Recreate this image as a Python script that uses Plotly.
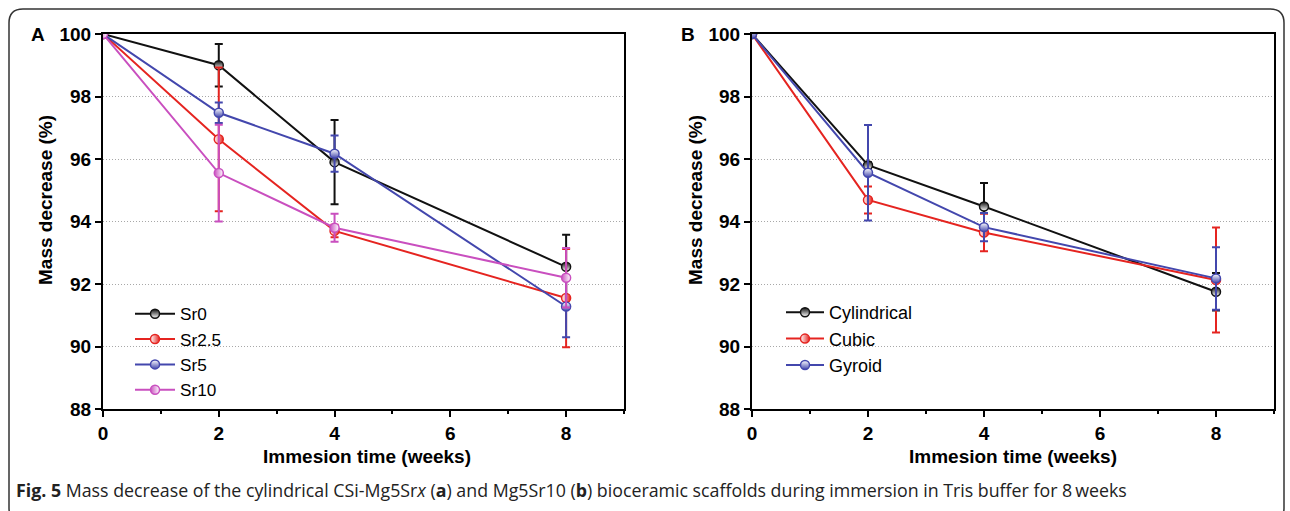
import plotly.graph_objects as go

W, H = 1290, 511

# ---------------- data ----------------
weeks = [0, 2, 4, 8]

# Panel A
sr_names = ["Sr0", "Sr2.5", "Sr5", "Sr10"]
sr0 = [100, 99.0, 95.9, 92.55]
sr0_err = [0, 0.68, 1.35, 1.03]
sr25 = [100, 96.63, 93.7, 91.55]
sr25_err = [0, 2.3, 0.2, 1.57]
sr5 = [100, 97.48, 96.17, 91.28]
sr5_err = [0, 0.33, 0.58, 0.98]
sr10 = [100, 95.55, 93.8, 92.2]
sr10_err = [0, 1.55, 0.45, 0.95]

# Panel B
shape_names = ["Cylindrical", "Cubic", "Gyroid"]
cyl = [100, 95.8, 94.48, 91.75]
cyl_err = [0, 0.1, 0.75, 0.6]
cub = [100, 94.69, 93.65, 92.13]
cub_err = [0, 0.43, 0.6, 1.68]
gyr = [100, 95.56, 93.82, 92.18]
gyr_err = [0, 1.53, 0.45, 1.0]

x_ticks = [0, 2, 4, 6, 8]
y_ticks = [88, 90, 92, 94, 96, 98, 100]

BLACK = "#111111"
RED = "#e52420"
BLUE = "#4347ad"
MAG = "#c94fbf"

def half(c, side):
    if side == "top":
        return dict(color=c, gradient=dict(type="vertical", color="white"))
    if side == "bottom":
        return dict(color="white", gradient=dict(type="vertical", color=c))
    if side == "left":
        return dict(color=c, gradient=dict(type="horizontal", color="white"))
    return dict(color="white", gradient=dict(type="horizontal", color=c))

fig = go.Figure()

seriesA = [(sr0, sr0_err, BLACK, "top"), (sr25, sr25_err, RED, "right"),
           (sr5, sr5_err, BLUE, "bottom"), (sr10, sr10_err, MAG, "left")]
for name, (vals, err, c, side) in zip(sr_names, seriesA):
    m = half(c, side)
    fig.add_trace(go.Scatter(
        x=weeks, y=vals, name=name, mode="lines+markers",
        line=dict(color=c, width=2),
        marker=dict(symbol="circle", size=9, line=dict(color=c, width=1.5), **m),
        error_y=dict(type="data", array=err, visible=True, color=c, thickness=2, width=4),
        xaxis="x", yaxis="y", legend="legend"))

seriesB = [(cyl, cyl_err, BLACK, "top"), (cub, cub_err, RED, "right"),
           (gyr, gyr_err, BLUE, "bottom")]
for name, (vals, err, c, side) in zip(shape_names, seriesB):
    m = half(c, side)
    fig.add_trace(go.Scatter(
        x=weeks, y=vals, name=name, mode="lines+markers",
        line=dict(color=c, width=2),
        marker=dict(symbol="circle", size=9, line=dict(color=c, width=1.5), **m),
        error_y=dict(type="data", array=err, visible=True, color=c, thickness=2, width=4),
        xaxis="x2", yaxis="y2", legend="legend2"))

def px(x):
    return x / W

def py(y):
    return 1 - y / H

TICKFONT = dict(family="Liberation Sans Narrow, Arial Narrow, Liberation Sans, Arial", size=19, color="black", weight="bold")

xa = dict(range=[0, 9], tickvals=x_ticks, ticks="outside", ticklen=6, tickwidth=2,
          tickcolor="black", showline=True, linecolor="black", linewidth=2, mirror=True,
          showgrid=False, zeroline=False, tickfont=TICKFONT, automargin=False,
          minor=dict(dtick=1, ticks="outside", ticklen=3, tickwidth=1.5, tickcolor="black", showgrid=False))
ya = dict(range=[88, 100], tickvals=y_ticks, ticks="outside", ticklen=6, tickwidth=2,
          tickcolor="black", showline=True, linecolor="black", linewidth=2, mirror=True,
          showgrid=True, gridcolor="#a8a8a8", griddash="1px,2px", gridwidth=1, zeroline=False,
          tickfont=TICKFONT, automargin=False)

yd = [py(409), py(34)]
fig.update_layout(
    template="none",
    width=W, height=H, margin=dict(l=0, r=0, t=0, b=0, pad=0, autoexpand=False),
    paper_bgcolor="white", plot_bgcolor="white",
    xaxis=dict(domain=[px(103), px(624)], anchor="y", **xa),
    yaxis=dict(domain=yd, anchor="x", **ya),
    xaxis2=dict(domain=[px(752), px(1274)], anchor="y2", **xa),
    yaxis2=dict(domain=yd, anchor="x2", **ya),
    legend=dict(x=px(130), y=py(296), xanchor="left", yanchor="top",
                bgcolor="rgba(0,0,0,0)", tracegroupgap=0, itemwidth=40,
                font=dict(family="Liberation Sans, Arial", size=17.2, color="black")),
    legend2=dict(x=px(781), y=py(294), xanchor="left", yanchor="top",
                 bgcolor="rgba(0,0,0,0)", tracegroupgap=0, itemwidth=38,
                 font=dict(family="Liberation Sans, Arial", size=18, color="black")),
    showlegend=True,
)

TITLEFONT = dict(family="Liberation Sans, Arial", size=19, color="black", weight="bold")
ann = []
for cx in [367, 1013]:
    ann.append(dict(x=px(cx), y=py(456), xref="paper", yref="paper", text="Immesion time (weeks)",
                    showarrow=False, font=TITLEFONT, xanchor="center", yanchor="middle"))
for cx in [45, 695]:
    ann.append(dict(x=px(cx), y=py(200), xref="paper", yref="paper", text="Mass decrease (%)",
                    showarrow=False, font=TITLEFONT, textangle=-90,
                    xanchor="center", yanchor="middle"))
ann.append(dict(x=px(38), y=py(34), xref="paper", yref="paper", text="A", showarrow=False,
                font=dict(family="Liberation Sans, Arial", size=19, color="black", weight="bold"),
                xanchor="center", yanchor="middle"))
ann.append(dict(x=px(688), y=py(34), xref="paper", yref="paper", text="B", showarrow=False,
                font=dict(family="Liberation Sans, Arial", size=19, color="black", weight="bold"),
                xanchor="center", yanchor="middle"))
ann.append(dict(x=px(14), y=py(490), xref="paper", yref="paper",
                text="<b>Fig. 5</b> Mass decrease of the cylindrical CSi-Mg5Sr<i>x</i> (<b>a</b>) and Mg5Sr10 (<b>b</b>) bioceramic scaffolds during immersion in Tris buffer for 8\u2009weeks",
                showarrow=False, font=dict(family="Open Sans", size=17.8, color="#222222"),
                xanchor="left", yanchor="middle"))
fig.update_layout(annotations=ann)

# rounded frame around the figure
x0, x1, y0, y1, r = 9, 1284, 9, 522, 14
path = (f"M {px(x0)},{py(y0 + r)} L {px(x0)},{py(y1 - r)} Q {px(x0)},{py(y1)} {px(x0 + r)},{py(y1)} "
        f"L {px(x1 - r)},{py(y1)} Q {px(x1)},{py(y1)} {px(x1)},{py(y1 - r)} "
        f"L {px(x1)},{py(y0 + r)} Q {px(x1)},{py(y0)} {px(x1 - r)},{py(y0)} "
        f"L {px(x0 + r)},{py(y0)} Q {px(x0)},{py(y0)} {px(x0)},{py(y0 + r)} Z")
fig.add_shape(type="path", path=path, xref="paper", yref="paper",
              line=dict(color="#333333", width=1.5), layer="below")

fig.write_html("out.html", config={"displayModeBar": False},
               post_script="document.body.style.margin='0px';")
